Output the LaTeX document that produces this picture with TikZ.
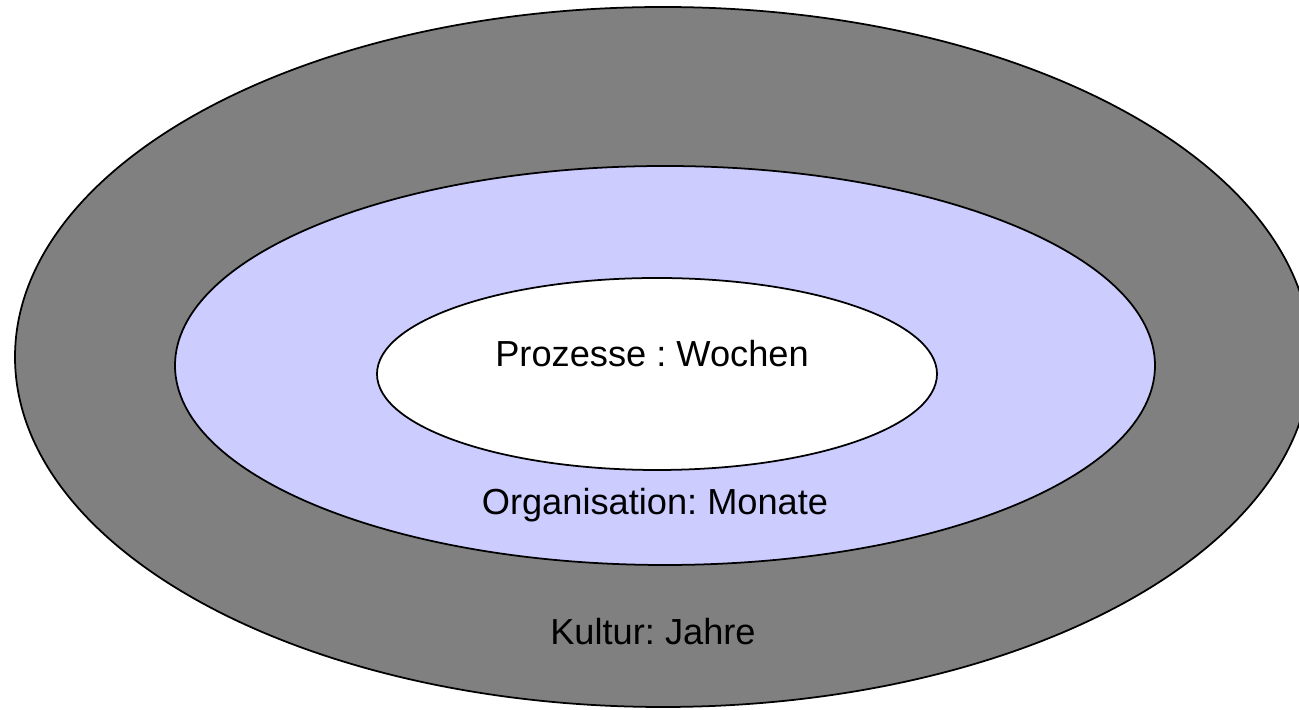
\documentclass[tikz,border=0pt]{standalone}
\usepackage{fontspec}
\setmainfont{Liberation Sans}
\frenchspacing
\definecolor{kulturgray}{HTML}{808080}
\definecolor{orgblue}{HTML}{CCCCFF}
\begin{document}
\begin{tikzpicture}[x=0.01cm,y=-0.01cm,
  ring/.style={draw=black,line width=0.5pt},
  label/.style={font=\fontsize{10.3pt}{12pt}\selectfont,anchor=base,inner sep=0pt}]
\useasboundingbox (0,0) rectangle (1299,710);
\begin{scope}
  \clip (0,0) rectangle (1299,710);
  % outer ring: culture
  \draw[ring,fill=kulturgray] (663,357) ellipse [x radius=648,y radius=350];
\end{scope}
% middle ring: organisation
\draw[ring,fill=orgblue] (665,365.5) ellipse [x radius=490,y radius=199.5];
% inner core: processes
\draw[ring,fill=white] (657,374) ellipse [x radius=280,y radius=96];
\node[label] (proz) at (652,367) {Prozesse : Wochen};
\node[label] (org) at (655,515) {Organisation: Monate};
\node[label] (kult) at (653,645) {Kultur: Jahre};
\end{tikzpicture}
\end{document}
